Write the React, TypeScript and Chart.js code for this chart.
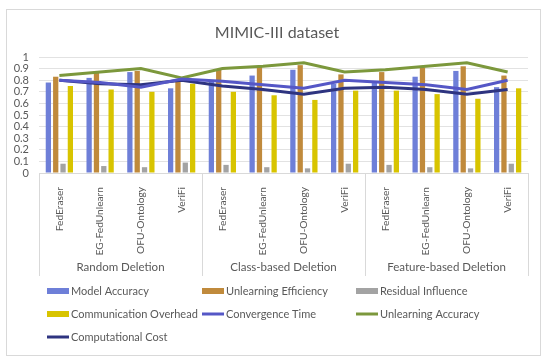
import React, { useEffect, useRef } from "react";
import { Chart, registerables } from "chart.js";

Chart.register(...registerables);

const categories = [
  "FedEraser", "EG-FedUnlearn", "OFU-Ontology", "VeriFi",
  "FedEraser", "EG-FedUnlearn", "OFU-Ontology", "VeriFi",
  "FedEraser", "EG-FedUnlearn", "OFU-Ontology", "VeriFi",
];
const groups = ["Random Deletion", "Class-based Deletion", "Feature-based Deletion"];
const groupSize = 4;

const modelAccuracy = [0.78, 0.82, 0.87, 0.73, 0.80, 0.84, 0.89, 0.77, 0.78, 0.83, 0.88, 0.74];
const unlearningEfficiency = [0.83, 0.87, 0.88, 0.81, 0.89, 0.92, 0.93, 0.85, 0.87, 0.91, 0.92, 0.84];
const residualInfluence = [0.08, 0.06, 0.05, 0.09, 0.07, 0.05, 0.04, 0.08, 0.07, 0.05, 0.04, 0.08];
const communicationOverhead = [0.75, 0.72, 0.70, 0.77, 0.70, 0.67, 0.63, 0.71, 0.71, 0.68, 0.64, 0.73];
const convergenceTime = [0.80, 0.78, 0.74, 0.81, 0.79, 0.76, 0.73, 0.80, 0.78, 0.76, 0.72, 0.80];
const unlearningAccuracy = [0.84, 0.87, 0.90, 0.82, 0.90, 0.92, 0.95, 0.87, 0.89, 0.92, 0.95, 0.87];
const computationalCost = [0.80, 0.77, 0.76, 0.80, 0.75, 0.72, 0.68, 0.73, 0.74, 0.72, 0.68, 0.72];

const TEXT = "#595959";
const FONT = "Lato, 'Open Sans', sans-serif";

const series = [
  { label: "Model Accuracy", type: "bar", data: modelAccuracy, color: "#6e7fd8" },
  { label: "Unlearning Efficiency", type: "bar", data: unlearningEfficiency, color: "#c08a3c" },
  { label: "Residual Influence", type: "bar", data: residualInfluence, color: "#a3a3a3" },
  { label: "Communication Overhead", type: "bar", data: communicationOverhead, color: "#d8c400" },
  { label: "Convergence Time", type: "line", data: convergenceTime, color: "#5557c6" },
  { label: "Unlearning Accuracy", type: "line", data: unlearningAccuracy, color: "#7c983c" },
  { label: "Computational Cost", type: "line", data: computationalCost, color: "#2e3480" },
];

const decorPlugin = {
  id: "decor",
  beforeDraw(chart: any) {
    const ctx = chart.ctx;
    ctx.save();
    ctx.fillStyle = "#ffffff";
    ctx.fillRect(0, 0, chart.width, chart.height);
    ctx.strokeStyle = "#d9d9d9";
    ctx.lineWidth = 1;
    ctx.strokeRect(6.5, 9.5, 534, 346);
    ctx.restore();
  },
  afterDraw(chart: any) {
    const ctx = chart.ctx;
    const x = chart.scales.x;
    const bottom = chart.chartArea.bottom;
    ctx.save();
    ctx.fillStyle = TEXT;
    ctx.font = `16px ${FONT}`;
    ctx.textAlign = "center";
    ctx.textBaseline = "middle";
    ctx.fillText("MIMIC-III dataset", 277, 33);

    const step = x.width / categories.length;
    ctx.strokeStyle = "#d9d9d9";
    ctx.lineWidth = 1;
    for (let g = 0; g <= groups.length; g++) {
      const px = Math.round(x.left + g * groupSize * step) + 0.5;
      ctx.beginPath();
      ctx.moveTo(px, bottom);
      ctx.lineTo(px, 276);
      ctx.stroke();
    }
    ctx.font = `11.5px ${FONT}`;
    ctx.fillStyle = TEXT;
    groups.forEach((g, i) => {
      const cx = x.left + (i * groupSize + groupSize / 2) * step;
      ctx.fillText(g, cx, 267);
    });

    const cols = [47, 202, 356];
    const rows = [291, 314, 337];
    ctx.font = `11px ${FONT}`;
    ctx.textAlign = "left";
    series.forEach((s, i) => {
      const lx = cols[i % 3];
      const ly = rows[Math.floor(i / 3)];
      if (s.type === "bar") {
        ctx.fillStyle = s.color;
        ctx.fillRect(lx, ly - 3, 22, 6);
      } else {
        ctx.strokeStyle = s.color;
        ctx.lineWidth = 3;
        ctx.beginPath();
        ctx.moveTo(lx, ly);
        ctx.lineTo(lx + 22, ly);
        ctx.stroke();
      }
      ctx.fillStyle = TEXT;
      ctx.fillText(s.label, lx + 24, ly);
    });
    ctx.restore();
  },
};

export default function App() {
  const ref = useRef<HTMLCanvasElement>(null);
  useEffect(() => {
    if (!ref.current) return;
    const datasets: any[] = series.map((s) =>
      s.type === "bar"
        ? {
            type: "bar",
            label: s.label,
            data: s.data,
            backgroundColor: s.color,
            barPercentage: 0.72,
            categoryPercentage: 0.72,
            order: 2,
          }
        : {
            type: "line",
            label: s.label,
            data: s.data,
            borderColor: s.color,
            backgroundColor: s.color,
            borderWidth: 3,
            pointRadius: 0,
            tension: 0,
            order: 1,
          }
    );
    const chart = new Chart(ref.current, {
      type: "bar",
      data: { labels: categories, datasets },
      plugins: [decorPlugin],
      options: {
        responsive: false,
        animation: false,
        layout: { padding: { top: 57, right: 22, left: 0, bottom: 0 } },
        plugins: { legend: { display: false }, title: { display: false }, tooltip: { enabled: false } },
        scales: {
          x: {
            grid: { display: false },
            border: { color: "#d9d9d9" },
            ticks: {
              autoSkip: false,
              maxRotation: 90,
              minRotation: 90,
              padding: 6,
              color: TEXT,
              font: { family: FONT, size: 10.2 },
            },
            afterFit: (s: any) => {
              s.height = 186;
            },
          },
          y: {
            min: 0,
            max: 1,
            ticks: {
              stepSize: 0.1,
              autoSkip: false,
              padding: 10,
              color: TEXT,
              font: { family: FONT, size: 11 },
              callback: (v: any) => String(Math.round(Number(v) * 10) / 10),
            },
            grid: { color: "#e2e2e2", drawTicks: false },
            border: { display: false },
            afterFit: (s: any) => {
              s.width = 39;
            },
          },
        },
      },
    });
    return () => chart.destroy();
  }, []);
  return (
    <canvas
      ref={ref}
      width={550}
      height={359}
      style={{ position: "fixed", left: 0, top: 0, width: 550, height: 359 }}
    />
  );
}
